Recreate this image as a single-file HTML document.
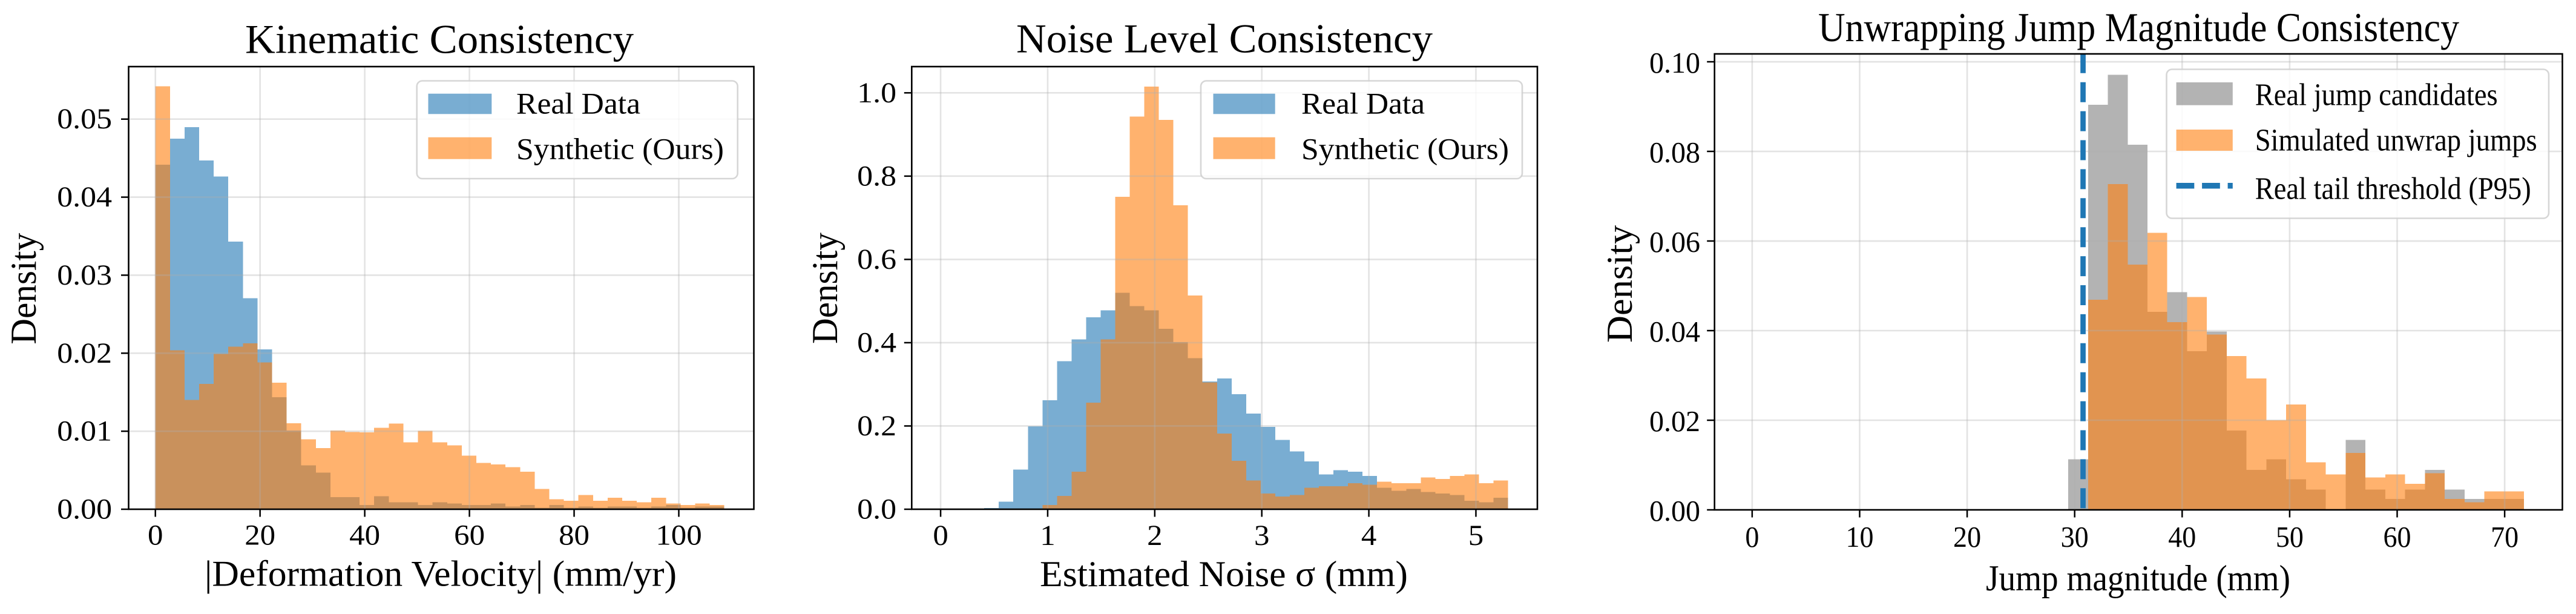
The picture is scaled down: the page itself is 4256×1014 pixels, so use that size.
<!DOCTYPE html>
<html lang="en">
<head>
<meta charset="utf-8">
<title>Distribution consistency histograms</title>
<style>
  html, body { margin: 0; padding: 0; background: #ffffff; }
  svg { display: block; }
  text { font-family: "Liberation Serif", "Times New Roman", serif; fill: #000000; }
  .legend-box { fill: rgba(255,255,255,0.8); stroke: rgba(204,204,204,0.8); stroke-width: 2.6; }
</style>
</head>
<body>
<svg id="figure" xmlns="http://www.w3.org/2000/svg" width="4256" height="1014" viewBox="0 0 4256 1014">
  <rect x="0" y="0" width="4256" height="1014" fill="#ffffff"></rect>

  <g id="panel-kinematic"></g>
  <g id="panel-noise"></g>
  <g id="panel-jump"></g>

  <text x="405" y="87.3" font-size="67.5" textLength="642" lengthAdjust="spacingAndGlyphs">Kinematic Consistency</text>
  <text x="338" y="967.7" font-size="60" textLength="780" lengthAdjust="spacingAndGlyphs">|Deformation Velocity| (mm/yr)</text>
  <text transform="translate(59,568.7) rotate(-90)" x="0" y="0" font-size="60" textLength="184" lengthAdjust="spacingAndGlyphs">Density</text>

  <text x="1679" y="86.5" font-size="67.5" textLength="688" lengthAdjust="spacingAndGlyphs">Noise Level Consistency</text>
  <text x="1718" y="968" font-size="60" textLength="608" lengthAdjust="spacingAndGlyphs">Estimated Noise σ (mm)</text>
  <text transform="translate(1383,568) rotate(-90)" x="0" y="0" font-size="60" textLength="184" lengthAdjust="spacingAndGlyphs">Density</text>

  <text x="3004" y="68" font-size="68" textLength="1059" lengthAdjust="spacingAndGlyphs">Unwrapping Jump Magnitude Consistency</text>
  <text x="3281" y="975" font-size="60" textLength="503" lengthAdjust="spacingAndGlyphs">Jump magnitude (mm)</text>
  <text transform="translate(2696,566) rotate(-90)" x="0" y="0" font-size="60" textLength="194" lengthAdjust="spacingAndGlyphs">Density</text>

  <g>
    <rect class="legend-box" x="688.7" y="133.5" width="530" height="161.5" rx="9"></rect>
    <rect x="707.5" y="154.7" width="104.8" height="33.6" fill="#1f77b4" fill-opacity="0.6"></rect>
    <text x="853" y="187.7" font-size="49.5" textLength="205" lengthAdjust="spacingAndGlyphs">Real Data</text>
    <rect x="707.5" y="226.7" width="104.8" height="36" fill="#ff7f0e" fill-opacity="0.6"></rect>
    <text x="853" y="262.3" font-size="49.5" textLength="343" lengthAdjust="spacingAndGlyphs">Synthetic (Ours)</text>
  </g>

  <g>
    <rect class="legend-box" x="1984" y="133.5" width="531" height="161.5" rx="9"></rect>
    <rect x="2004.5" y="154.7" width="102.2" height="33.6" fill="#1f77b4" fill-opacity="0.6"></rect>
    <text x="2150" y="187.7" font-size="49.5" textLength="204" lengthAdjust="spacingAndGlyphs">Real Data</text>
    <rect x="2004.5" y="226.7" width="102.2" height="36" fill="#ff7f0e" fill-opacity="0.6"></rect>
    <text x="2150" y="262.3" font-size="49.5" textLength="343" lengthAdjust="spacingAndGlyphs">Synthetic (Ours)</text>
  </g>

  <g>
    <rect class="legend-box" x="3579.5" y="114.5" width="631.5" height="246" rx="9"></rect>
    <rect x="3595.6" y="136" width="93.2" height="37.7" fill="#808080" fill-opacity="0.6"></rect>
    <text x="3725.7" y="173.3" font-size="52" textLength="401" lengthAdjust="spacingAndGlyphs">Real jump candidates</text>
    <rect x="3595.6" y="214" width="93.2" height="35" fill="#ff7f0e" fill-opacity="0.6"></rect>
    <text x="3725.7" y="248.3" font-size="52" textLength="466" lengthAdjust="spacingAndGlyphs">Simulated unwrap jumps</text>
    <line x1="3595.6" y1="306.7" x2="3688.8" y2="306.7" stroke="#1f77b4" stroke-width="9.5" stroke-dasharray="29.7 12.8"></line>
    <text x="3725.7" y="328.3" font-size="52" textLength="456" lengthAdjust="spacingAndGlyphs">Real tail threshold (P95)</text>
  </g>
</svg>

<script>
// ---- Kinematic panel data ----
const kinematicBinRange = [0, 108.7];
const kinematicReal = [0.04416, 0.0475, 0.04897, 0.0447, 0.04266, 0.0343, 0.02703, 0.02049, 0.01436, 0.01009, 0.00561, 0.00468, 0.00155, 0.00155, 0.00054, 0.00166, 0.00091, 0.00091, 0.00054, 0.00091, 0.00072, 0.00054, 0.00054, 0.00072, 0.00034, 0.00054, 0.00018, 0.00054, 0.00018, 0.00034, 0.00018, 0.00034, 0.00034, 0.00018, 0.00034, 0.00054, 0.00018, 0.00034, 0.00034];
const kinematicSynthetic = [0.05419, 0.02036, 0.014, 0.01606, 0.01992, 0.02085, 0.02126, 0.01883, 0.01622, 0.01102, 0.00898, 0.00784, 0.01009, 0.00991, 0.00986, 0.01043, 0.01097, 0.00856, 0.01004, 0.00856, 0.00817, 0.00686, 0.00592, 0.00574, 0.00538, 0.00481, 0.00259, 0.00127, 0.00109, 0.00184, 0.00109, 0.00147, 0.00109, 0.00091, 0.00147, 0.00072, 0.00054, 0.00072, 0.00054];
const kinematicXTicks = [0, 20, 40, 60, 80, 100];
const kinematicYTicks = [0, 0.01, 0.02, 0.03, 0.04, 0.05];
const kinematicYTickLabels = ['0.00', '0.01', '0.02', '0.03', '0.04', '0.05'];

// ---- Noise panel data ----
const noiseBinRange = [0, 5.3];
const noiseReal = [0, 0, 0, 0.003, 0.018, 0.095, 0.199, 0.2615, 0.3556, 0.408, 0.461, 0.478, 0.52, 0.488, 0.478, 0.433, 0.401, 0.363, 0.307, 0.314, 0.276, 0.2298, 0.198, 0.1667, 0.1391, 0.1149, 0.0834, 0.0936, 0.0902, 0.08, 0.0519, 0.0446, 0.0485, 0.0412, 0.0378, 0.0344, 0.0204, 0.017, 0.0276];
const noiseSynthetic = [0, 0, 0, 0, 0, 0, 0, 0.01, 0.032, 0.09, 0.256, 0.408, 0.75, 0.943, 1.015, 0.935, 0.73, 0.513, 0.305, 0.182, 0.116, 0.0693, 0.0378, 0.0305, 0.0344, 0.0519, 0.0553, 0.0553, 0.0625, 0.0587, 0.0659, 0.0625, 0.0625, 0.0761, 0.0727, 0.08, 0.0834, 0.0625, 0.0693];
const noiseXTicks = [0, 1, 2, 3, 4, 5];
const noiseYTicks = [0, 0.2, 0.4, 0.6, 0.8, 1.0];
const noiseYTickLabels = ['0.0', '0.2', '0.4', '0.6', '0.8', '1.0'];

// ---- Jump panel data ----
const jumpBinRange = [29.4, 71.8];
const jumpReal = [0.0113, 0.0904, 0.0971, 0.0815, 0.0442, 0.0486, 0.0354, 0.0398, 0.0177, 0.0089, 0.0113, 0.0068, 0.0045, 0, 0.0156, 0.0045, 0.0024, 0.0045, 0.0089, 0.0045, 0.0024, 0.0024, 0.0024];
const jumpSimulated = [0, 0.0469, 0.0727, 0.0547, 0.0618, 0.0419, 0.0475, 0.0391, 0.0343, 0.0293, 0.02, 0.0235, 0.0106, 0.0079, 0.0127, 0.0072, 0.0079, 0.0058, 0.0082, 0.0024, 0.0017, 0.0041, 0.0041];
const jumpThreshold = 30.78;
const jumpXTicks = [0, 10, 20, 30, 40, 50, 60, 70];
const jumpYTicks = [0, 0.02, 0.04, 0.06, 0.08, 0.10];
const jumpYTickLabels = ['0.00', '0.02', '0.04', '0.06', '0.08', '0.10'];

const SVG_NS = 'http://www.w3.org/2000/svg';

function make(tag, attrs, parent) {
  const el = document.createElementNS(SVG_NS, tag);
  Object.keys(attrs).forEach(function (k) { el.setAttribute(k, attrs[k]); });
  parent.appendChild(el);
  return el;
}

function advance(label) {
  let total = 0;
  for (const ch of String(label)) total += (ch === '.') ? 0.25 : 0.5;
  return total;
}

function drawHistogram(parent, values, binRange, scaleX, scaleY, color, seriesName) {
  const binWidth = (binRange[1] - binRange[0]) / values.length;
  values.forEach(function (value, i) {
    const x1 = scaleX(binRange[0] + i * binWidth);
    const x2 = scaleX(binRange[0] + (i + 1) * binWidth);
    const top = scaleY(value);
    const bar = make('rect', {
      x: x1, y: top, width: x2 - x1, height: scaleY(0) - top,
      fill: color, 'fill-opacity': 0.6, 'shape-rendering': 'crispEdges'
    }, parent);
    
    
  });
}

function drawPanel(opts) {
  const root = document.getElementById(opts.id);
  const box = opts.box;
  const scaleX = function (v) {
    return box.left + (v - opts.xDomain[0]) / (opts.xDomain[1] - opts.xDomain[0]) * (box.right - box.left);
  };
  const scaleY = function (v) {
    return box.bottom - (v - opts.yDomain[0]) / (opts.yDomain[1] - opts.yDomain[0]) * (box.bottom - box.top);
  };

  drawHistogram(root, opts.realValues, opts.binRange, scaleX, scaleY, opts.realColor, opts.name + '-real');
  drawHistogram(root, opts.otherValues, opts.binRange, scaleX, scaleY, '#ff7f0e', opts.name + '-synthetic');

  // grid
  opts.xTicks.forEach(function (t) {
    const px = scaleX(t);
    const grid = make('line', { x1: px, x2: px, y1: box.top, y2: box.bottom, stroke: '#b0b0b0', 'stroke-opacity': 0.35, 'stroke-width': 2.6 }, root);
    
    
  });
  opts.yTicks.forEach(function (t) {
    const py = scaleY(t);
    const grid = make('line', { x1: box.left, x2: box.right, y1: py, y2: py, stroke: '#b0b0b0', 'stroke-opacity': 0.35, 'stroke-width': 2.6 }, root);
    
    
  });

  // threshold
  if (opts.threshold !== undefined) {
    const px = scaleX(opts.threshold);
    const rule = make('line', {
      x1: px, x2: px, y1: box.bottom, y2: box.top,
      stroke: '#1f77b4', 'stroke-width': 8.7,
      'stroke-dasharray': '33 14.9', 'stroke-dashoffset': 45.2
    }, root);
    
    
  }

  // ticks and tick labels
  opts.xTicks.forEach(function (t, i) {
    const px = scaleX(t);
    const tick = make('line', { x1: px, x2: px, y1: box.bottom, y2: box.bottom + 12.5, stroke: '#000', 'stroke-width': 2.5 }, root);
    
    
    const label = String(opts.xTicks[i]);
    const text = make('text', {
      x: px, y: opts.xLabelY, 'font-size': opts.tickFont, 'text-anchor': 'middle',
      textLength: advance(label) * opts.tickFont * opts.xStretch, lengthAdjust: 'spacingAndGlyphs'
    }, root);
    text.textContent = label;
    
    
  });
  opts.yTicks.forEach(function (t, i) {
    const py = scaleY(t);
    const tick = make('line', { x1: box.left - 12.5, x2: box.left, y1: py, y2: py, stroke: '#000', 'stroke-width': 2.5 }, root);
    
    
    const label = opts.yTickLabels[i];
    const text = make('text', {
      x: opts.yLabelRight, y: py + opts.yLabelDrop, 'font-size': opts.tickFont, 'text-anchor': 'end',
      textLength: advance(label) * opts.tickFont * opts.yStretch, lengthAdjust: 'spacingAndGlyphs'
    }, root);
    text.textContent = label;
    
    
  });

  // frame
  const frame = make('rect', {
    x: box.left, y: box.top, width: box.right - box.left, height: box.bottom - box.top,
    fill: 'none', stroke: '#000', 'stroke-width': 2.6
  }, root);
  
  
}

drawPanel({
  id: 'panel-kinematic', name: 'kinematic',
  box: { left: 212.5, right: 1245.5, top: 110, bottom: 841 },
  xDomain: [-5.11, 114.34], yDomain: [0, 0.05673],
  binRange: kinematicBinRange,
  realValues: kinematicReal, otherValues: kinematicSynthetic, realColor: '#1f77b4',
  xTicks: kinematicXTicks, yTicks: kinematicYTicks, yTickLabels: kinematicYTickLabels,
  tickFont: 48, xStretch: 1.06, yStretch: 1.08,
  xLabelY: 899.7, yLabelRight: 185, yLabelDrop: 15.5
});

drawPanel({
  id: 'panel-noise', name: 'noise',
  box: { left: 1506.3, right: 2540, top: 110, bottom: 841 },
  xDomain: [-0.27, 5.574], yDomain: [0, 1.063],
  binRange: noiseBinRange,
  realValues: noiseReal, otherValues: noiseSynthetic, realColor: '#1f77b4',
  xTicks: noiseXTicks, yTicks: noiseYTicks, yTickLabels: noiseYTickLabels,
  tickFont: 48, xStretch: 1.06, yStretch: 1.08,
  xLabelY: 900, yLabelRight: 1481, yLabelDrop: 15.5
});

drawPanel({
  id: 'panel-jump', name: 'jump',
  box: { left: 2832.7, right: 4233.5, top: 89, bottom: 842 },
  xDomain: [-3.5, 75.37], yDomain: [0, 0.10176],
  binRange: jumpBinRange,
  realValues: jumpReal, otherValues: jumpSimulated, realColor: '#808080',
  threshold: jumpThreshold,
  xTicks: jumpXTicks, yTicks: jumpYTicks, yTickLabels: jumpYTickLabels,
  tickFont: 49, xStretch: 0.94, yStretch: 0.98,
  xLabelY: 903, yLabelRight: 2809, yLabelDrop: 18
});
</script>
</body>
</html>
